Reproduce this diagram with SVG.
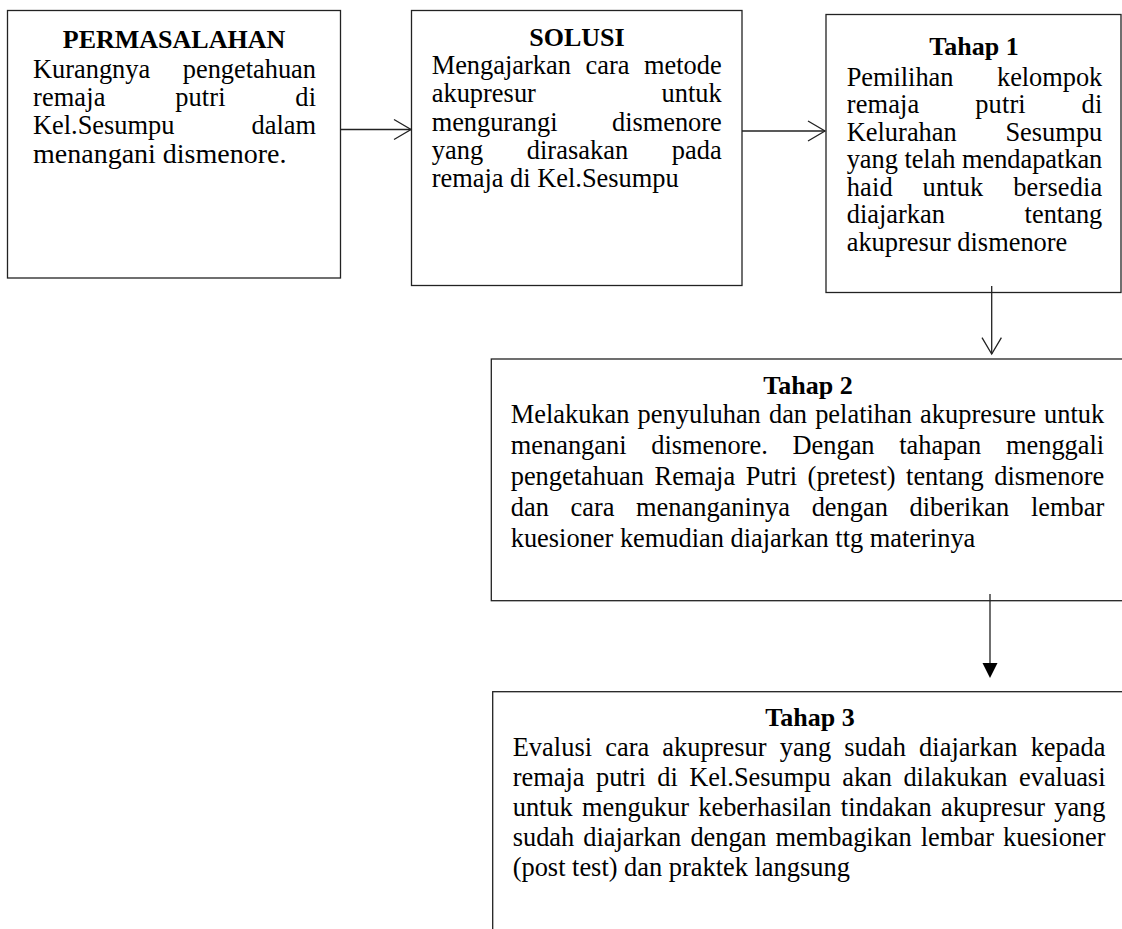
<svg xmlns="http://www.w3.org/2000/svg" width="1122" height="929" viewBox="0 0 1122 929">
<style>
.box{fill:#fff;stroke:#222;stroke-width:1.3}
.t{font-family:"Liberation Serif","Times New Roman",serif;font-size:26.4px;fill:#000}
.h{font-weight:bold;text-anchor:middle;font-size:26px}
.c{stroke:#222;stroke-width:1.3;fill:none}
.f{fill:#000;stroke:none}
</style>
<rect width="1122" height="929" fill="#fff"/>
<g id="permasalahan">
<rect class="box" x="7.5" y="10.5" width="333" height="267.5"/>
<text class="t h" x="174" y="48">PERMASALAHAN</text>
<text class="t" x="33" y="77.5" word-spacing="26" textLength="283" lengthAdjust="spacing">Kurangnya pengetahuan</text>
<text class="t" x="33" y="105.5" word-spacing="63" textLength="283" lengthAdjust="spacing">remaja putri di</text>
<text class="t" x="33" y="133.5" word-spacing="70.5" textLength="283" lengthAdjust="spacing">Kel.Sesumpu dalam</text>
<text class="t" x="33" y="162.5" style="font-size:28px">menangani dismenore.</text>
</g>
<g id="solusi">
<rect class="box" x="411.5" y="10.5" width="330.5" height="275"/>
<text class="t h" x="577" y="45.5">SOLUSI</text>
<text class="t" x="431.7" y="73.5" word-spacing="8" textLength="290" lengthAdjust="spacing">Mengajarkan cara metode</text>
<text class="t" x="431.7" y="102" word-spacing="119" textLength="290" lengthAdjust="spacing">akupresur untuk</text>
<text class="t" x="431.7" y="130.5" word-spacing="48" textLength="290" lengthAdjust="spacing">mengurangi dismenore</text>
<text class="t" x="431.7" y="159" word-spacing="37" textLength="290" lengthAdjust="spacing">yang dirasakan pada</text>
<text class="t" x="431.7" y="187">remaja di Kel.Sesumpu</text>
</g>
<g id="tahap1">
<rect class="box" x="826" y="14.5" width="295" height="278"/>
<text class="t h" x="974" y="54.5">Tahap 1</text>
<text class="t" x="846.7" y="85.5" word-spacing="37" textLength="255.6" lengthAdjust="spacing">Pemilihan kelompok</text>
<text class="t" x="846.7" y="113" word-spacing="49" textLength="255.6" lengthAdjust="spacing">remaja putri di</text>
<text class="t" x="846.7" y="140.5" word-spacing="42" textLength="255.6" lengthAdjust="spacing">Kelurahan Sesumpu</text>
<text class="t" x="846.7" y="168" word-spacing="0" textLength="255.6" lengthAdjust="spacing">yang telah mendapatkan</text>
<text class="t" x="846.7" y="195.5" word-spacing="23" textLength="255.6" lengthAdjust="spacing">haid untuk bersedia</text>
<text class="t" x="846.7" y="223" word-spacing="73" textLength="255.6" lengthAdjust="spacing">diajarkan tentang</text>
<text class="t" x="846.7" y="250.5">akupresur dismenore</text>
</g>
<g id="tahap2">
<rect class="box" x="491.3" y="359" width="660" height="241.7"/>
<text class="t h" x="808" y="393.5">Tahap 2</text>
<text class="t" x="510.7" y="423" word-spacing="1.5" textLength="593.5" lengthAdjust="spacing">Melakukan penyuluhan dan pelatihan akupresure untuk</text>
<text class="t" x="510.7" y="454" word-spacing="18" textLength="593.5" lengthAdjust="spacing">menangani dismenore. Dengan tahapan menggali</text>
<text class="t" x="510.7" y="485" word-spacing="4" textLength="593.5" lengthAdjust="spacing">pengetahuan Remaja Putri (pretest) tentang dismenore</text>
<text class="t" x="510.7" y="516" word-spacing="15" textLength="593.5" lengthAdjust="spacing">dan cara menanganinya dengan diberikan lembar</text>
<text class="t" x="510.7" y="547">kuesioner kemudian diajarkan ttg materinya</text>
</g>
<g id="tahap3">
<rect class="box" x="492.7" y="691.7" width="660" height="300"/>
<text class="t h" x="810" y="725.5">Tahap 3</text>
<text class="t" x="512.7" y="756" word-spacing="6.5" textLength="592.8" lengthAdjust="spacing">Evalusi cara akupresur yang sudah diajarkan kepada</text>
<text class="t" x="512.7" y="786" word-spacing="4.8" textLength="592.8" lengthAdjust="spacing">remaja putri di Kel.Sesumpu akan dilakukan evaluasi</text>
<text class="t" x="512.7" y="816" word-spacing="2.7" textLength="592.8" lengthAdjust="spacing">untuk mengukur keberhasilan tindakan akupresur yang</text>
<text class="t" x="512.7" y="846" word-spacing="2.5" textLength="592.8" lengthAdjust="spacing">sudah diajarkan dengan membagikan lembar kuesioner</text>
<text class="t" x="512.7" y="876">(post test) dan praktek langsung</text>
</g>
<g id="connectors">
<line class="c" x1="340.3" y1="129.5" x2="411" y2="129.5"/>
<polyline class="c" points="394,119.5 411,129.5 394,139.5"/>
<line class="c" x1="742" y1="131" x2="825" y2="131"/>
<polyline class="c" points="808,121 825,131 808,141"/>
<line class="c" x1="991.7" y1="286" x2="991.7" y2="354"/>
<polyline class="c" points="982,337.7 991.7,354 1001.4,337.7"/>
<line class="c" x1="990" y1="594" x2="990" y2="664"/>
<polygon class="f" points="982.5,663 997.5,663 990,678"/>
</g>
</svg>
